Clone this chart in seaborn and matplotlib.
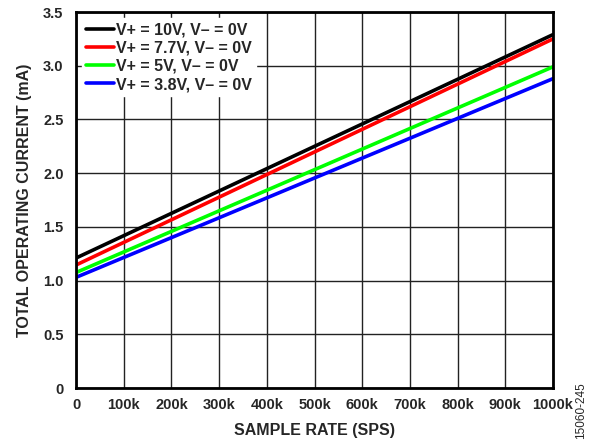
import numpy as np
import pandas as pd
import seaborn as sns
import matplotlib.pyplot as plt

# endpoints (sample rate in SPS, current in mA)
sample_rate = [0, 1000000]
i_10v = [1.21, 3.29]
i_7v7 = [1.145, 3.25]
i_5v = [1.075, 2.99]
i_3v8 = [1.03, 2.88]
labels = ["V+ = 10V, V\u2013 = 0V", "V+ = 7.7V, V\u2013 = 0V",
          "V+ = 5V, V\u2013 = 0V", "V+ = 3.8V, V\u2013 = 0V"]
colors = ["#000000", "#ff0000", "#00ff00", "#0000ff"]
x_ticks = [0, 100000, 200000, 300000, 400000, 500000, 600000, 700000, 800000, 900000, 1000000]
x_ticklabels = ["0", "100k", "200k", "300k", "400k", "500k", "600k", "700k", "800k", "900k", "1000k"]
y_ticks = [0, 0.5, 1.0, 1.5, 2.0, 2.5, 3.0, 3.5]

rows = []
for lab, vals in zip(labels, [i_10v, i_7v7, i_5v, i_3v8]):
    for x, v in zip(sample_rate, vals):
        rows.append({"rate": x, "current": v, "supply": lab})
df = pd.DataFrame(rows)

sns.set_style("white")
plt.rcParams['font.family'] = ['Liberation Sans', 'DejaVu Sans']

fig = plt.figure(figsize=(5.91, 4.46), dpi=100)
ax = fig.add_axes([0.1286, 0.130, 0.8071, 0.843])

sns.lineplot(data=df, x="rate", y="current", hue="supply", hue_order=labels,
             palette=colors, linewidth=2.6, ax=ax)

ax.set_xlim(0, 1000000)
ax.set_ylim(0, 3.5)
ax.set_xticks(x_ticks)
ax.set_xticklabels(x_ticklabels, fontweight='bold', fontsize=10.5)
ax.set_yticks(y_ticks)
ax.set_yticklabels([f"{t:.1f}" if t > 0 else "0" for t in y_ticks], fontweight='bold', fontsize=10.5)
ax.tick_params(axis='x', length=0, pad=7)
ax.tick_params(axis='y', length=0, pad=9)
ax.grid(True, color='#222222', linewidth=1.0)
ax.set_axisbelow(True)
for s in ax.spines.values():
    s.set_color('black')
    s.set_linewidth(2)

ax.set_xlabel("SAMPLE RATE (SPS)", fontweight='bold', fontsize=11.5, labelpad=8)
ax.set_ylabel("TOTAL OPERATING CURRENT (mA)", fontweight='bold', fontsize=11.5, labelpad=8)

leg = ax.legend(loc='upper left', bbox_to_anchor=(0.0, 1.0), frameon=True, fancybox=False,
                prop={'weight': 'bold', 'size': 11.5}, handlelength=1.7, handletextpad=0.15,
                labelspacing=0.2, borderpad=0.25, borderaxespad=0.4)
leg.get_frame().set_facecolor('white')
leg.get_frame().set_edgecolor('white')
leg.get_frame().set_alpha(1.0)
for h in leg.get_lines():
    h.set_linewidth(2.6)

fig.text(0.984, 0.08, "15060-245", rotation=90, fontsize=8.5, ha='center', va='center')

fig.savefig("out.png", dpi=100)
